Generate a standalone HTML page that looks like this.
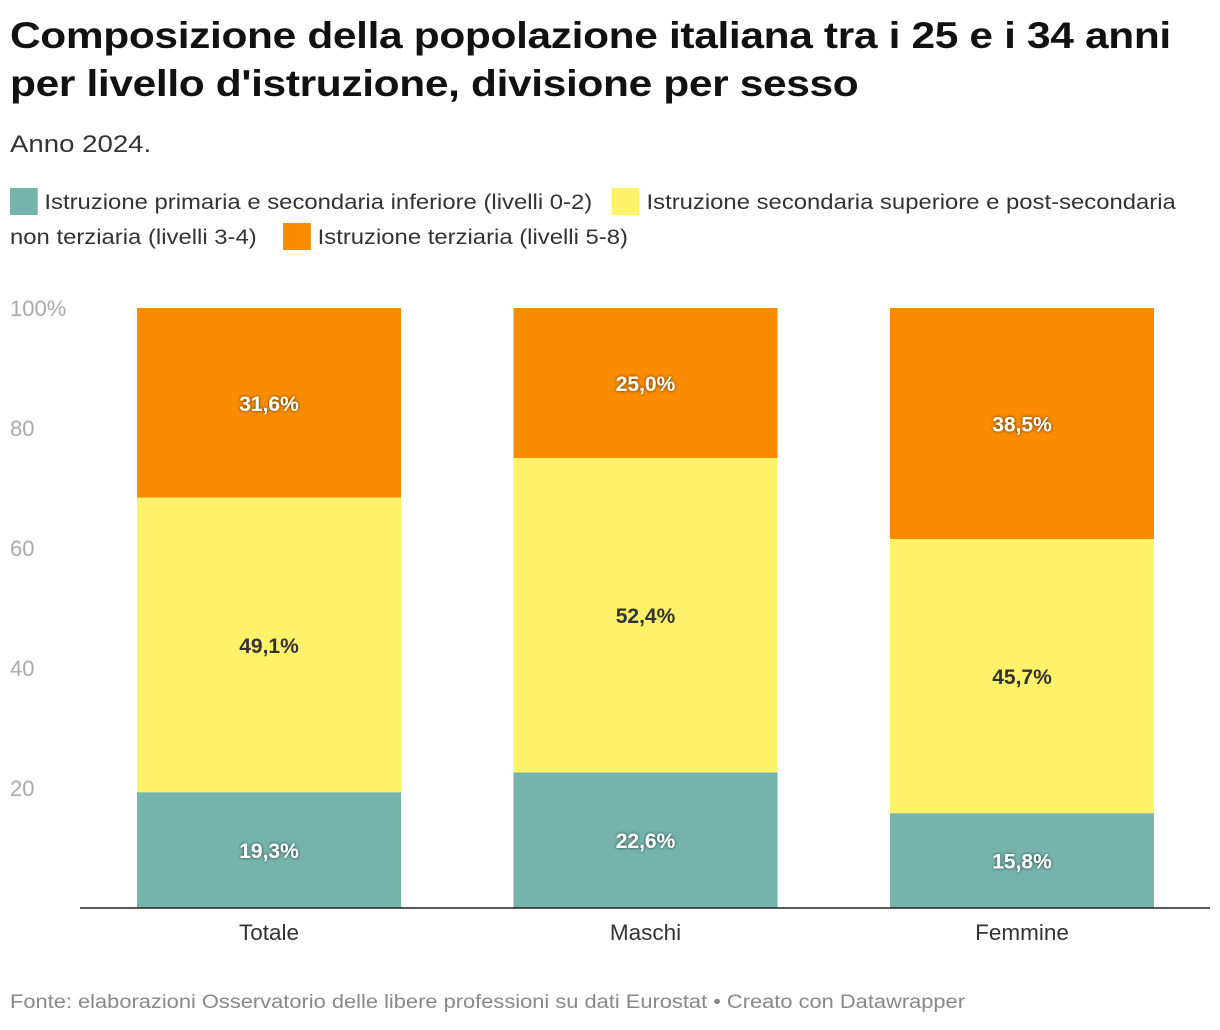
<!DOCTYPE html>
<html><head><meta charset="utf-8">
<style>
body{margin:0;width:1220px;height:1030px;background:#fff;font-family:"Liberation Sans",Arial,sans-serif;position:relative;overflow:hidden;color:#222}
.t{position:absolute;white-space:nowrap;transform-origin:0 0}
#title{left:10px;top:12px;font-size:37px;font-weight:bold;line-height:48px;color:#111;letter-spacing:-0.3px;transform:scaleX(1.147)}
#sub{left:10px;top:131px;font-size:24px;color:#333;transform:scaleX(1.15)}
.leg{font-size:21.5px;color:#333;transform:scaleX(1.11)}
.sw{display:inline-block;width:25px;height:27px;vertical-align:-6px;margin-right:6px}
#foot{left:10px;top:992px;font-size:19px;color:#888;transform:scaleX(1.15)}
</style></head><body>
<div class="t" id="title">Composizione della popolazione italiana tra i 25 e i 34 anni<br>per livello d'istruzione, divisione per sesso</div>
<div class="t" id="sub">Anno 2024.</div>
<div class="t leg" style="left:10px;top:188px"><span><span class="sw" style="background:#76b4ab"></span>Istruzione primaria e secondaria inferiore (livelli 0-2)</span>&nbsp;&nbsp;&nbsp;<span><span class="sw" style="background:#fef26b"></span>Istruzione secondaria superiore e post-secondaria</span></div>
<div class="t leg" style="left:10px;top:223px">non terziaria (livelli 3-4)&nbsp;&nbsp;&nbsp;&nbsp;<span><span class="sw" style="background:#f98c00"></span>Istruzione terziaria (livelli 5-8)</span></div>
<svg id="chart" width="1220" height="1030" style="position:absolute;left:0;top:0">
<defs><filter id="sh"><feDropShadow dx="0" dy="0" stdDeviation="1.5" flood-color="#000" flood-opacity="0.7"/></filter></defs>
</svg>
<div class="t" id="foot">Fonte: elaborazioni Osservatorio delle libere professioni su dati Eurostat • Creato con Datawrapper</div>
<script>
const categories=["Totale","Maschi","Femmine"];
const primaria=[19.3,22.6,15.8];
const secondaria=[49.1,52.4,45.7];
const terziaria=[31.6,25.0,38.5];
const yTicks=[20,40,60,80,100];
const series=[{n:"primaria",v:primaria,c:"#76b4ab",tc:"#fff"},{n:"secondaria",v:secondaria,c:"#fef26b",tc:"#333"},{n:"terziaria",v:terziaria,c:"#f98c00",tc:"#fff"}];
const svg=document.getElementById('chart');const NS="http://www.w3.org/2000/svg";
const y0=908,y1=308;const y=v=>y0-(v/100)*(y0-y1);
const bx=[137,513,890],bw=264;const xc=i=>bx[0]+i*((bx[2]-bx[0])/2);
function mk(t,a){const e=document.createElementNS(NS,t);for(const k in a)e.setAttribute(k,a[k]);svg.appendChild(e);return e;}
yTicks.forEach(t=>{const e=mk('text',{x:10,y:y(t)+8,'font-size':22,fill:'#aaa'});e.textContent=t===100?'100%':t;

});
categories.forEach((c,i)=>{let acc=0;const x=xc(i);
series.forEach(s=>{const v=s.v[i];const r=mk('rect',{x:x,y:y(acc+v),width:bw,height:y(acc)-y(acc+v),fill:s.c});


const tx=mk('text',{x:x+bw/2,y:(y(acc)+y(acc+v))/2+8,'text-anchor':'middle','font-size':21,'font-weight':'bold',fill:s.tc});
if(s.tc==='#fff')tx.setAttribute('filter','url(#sh)');
tx.textContent=v.toFixed(1).replace('.',',')+'%';


acc+=v;});
const l=mk('text',{x:x+bw/2,y:940,'text-anchor':'middle','font-size':22.5,fill:'#333'});l.textContent=c;

});
const ax=mk('line',{x1:80,x2:1210,y1:y0,y2:y0,stroke:'#222','stroke-width':1.5});


</script>
</body></html>
